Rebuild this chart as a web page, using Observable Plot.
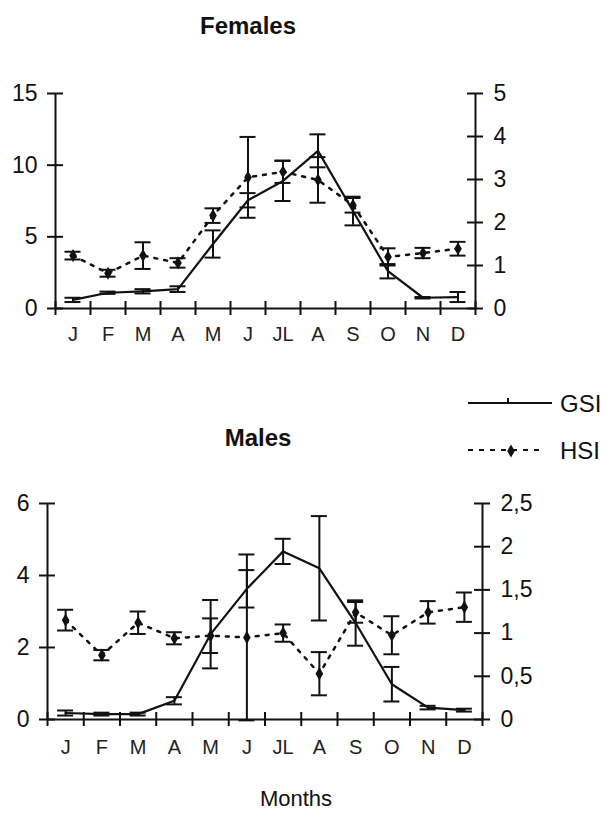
<!DOCTYPE html>
<html>
<head>
<meta charset="utf-8">
<script src="https://cdn.jsdelivr.net/npm/d3@7"></script>
<script src="https://cdn.jsdelivr.net/npm/@observablehq/plot@0.6"></script>
<style>
  body { margin: 0; background: #fff; }
  #chart { position: relative; width: 601px; height: 834px; background: #fff; font-family: "Liberation Sans", Arial, sans-serif; color: #111; overflow: hidden; }
  #chart > svg, #chart > figure { position: absolute; left: 0; margin: 0; }
</style>
</head>
<body>
<div id="chart"></div>
<script>
// ---------- data ----------
const months = ["J", "F", "M", "A", "M", "J", "JL", "A", "S", "O", "N", "D"];

// Females (GSI on left axis 0-15, HSI on right axis 0-5)
const femaleGSI    = [0.6, 1.1, 1.2, 1.35, 4.5, 7.55, 8.9, 11.0, 6.8, 2.6, 0.75, 0.8];
const femaleGSIerr = [0.15, 0.08, 0.15, 0.2, 0.95, 0.5, 1.4, 1.15, 1.0, 0.5, 0.05, 0.35];
const femaleHSI    = [1.23, 0.82, 1.23, 1.06, 2.16, 3.05, 3.18, 2.99, 2.4, 1.2, 1.29, 1.39];
const femaleHSIerr = [0.09, 0.08, 0.31, 0.11, 0.17, 0.94, 0.26, 0.53, 0.17, 0.2, 0.12, 0.16];

// Males (GSI on left axis 0-6, HSI on right axis 0-2.5)
const maleGSI    = [0.18, 0.15, 0.15, 0.52, 2.37, 3.63, 4.67, 4.2, 2.68, 0.98, 0.33, 0.26];
const maleGSIerr = [0.07, 0.04, 0.04, 0.1, 0.95, 0.52, 0.35, 1.45, 0.63, 0.48, 0.05, 0.04];
const maleHSI    = [1.15, 0.745, 1.12, 0.94, 0.97, 0.95, 1.0, 0.53, 1.24, 0.975, 1.24, 1.3];
const maleHSIerr = [0.12, 0.06, 0.13, 0.07, 0.2, 0.96, 0.1, 0.25, 0.12, 0.22, 0.13, 0.17];

const femaleLeftTicks  = [0, 5, 10, 15];
const femaleRightTicks = [0, 1, 2, 3, 4, 5];
const maleLeftTicks    = [0, 2, 4, 6];
const maleRightTicks   = [0, 0.5, 1, 1.5, 2, 2.5];

// ---------- drawing ----------
const FONT = "'Liberation Sans', Arial, sans-serif";
const INK = "#111";

function panel({gsi, gsiErr, hsi, hsiErr, leftTicks, rightTicks, height, marginTop, marginBottom, marginLeft, marginRight, monthPad}) {
  const width = 601;
  const leftMax = leftTicks[leftTicks.length - 1];
  const rightMax = rightTicks[rightTicks.length - 1];
  const k = leftMax / rightMax;
  const innerW = width - marginLeft - marginRight;
  const innerH = height - marginTop - marginBottom;
  const capHalf = 8 / (innerW / 12);
  const rows = months.map((m, i) => ({
    x: i + 0.5,
    gsi: gsi[i], gsiLo: gsi[i] - gsiErr[i], gsiHi: gsi[i] + gsiErr[i],
    hsi: hsi[i] * k, hsiLo: (hsi[i] - hsiErr[i]) * k, hsiHi: (hsi[i] + hsiErr[i]) * k
  }));
  const caps = rows.flatMap(r => [
    {x1: r.x - capHalf, x2: r.x + capHalf, y: r.gsiLo},
    {x1: r.x - capHalf, x2: r.x + capHalf, y: r.gsiHi},
    {x1: r.x - capHalf, x2: r.x + capHalf, y: r.hsiLo},
    {x1: r.x - capHalf, x2: r.x + capHalf, y: r.hsiHi}
  ]);
  const fmt = v => String(Math.round(v * 10) / 10).replace(".", ",");
  return Plot.plot({
    width, height, marginTop, marginBottom, marginLeft, marginRight,
    x: {type: "linear", domain: [0, 12]},
    y: {type: "linear", domain: [0, leftMax]},
    style: {fontFamily: FONT, fontSize: "23px", color: INK, background: "transparent", overflow: "visible"},
    marks: [
      // frame: axis lines
      Plot.ruleY([0], {stroke: INK, strokeWidth: 2}),
      Plot.ruleX([0, 12], {stroke: INK, strokeWidth: 2}),
      // crossing ticks
      Plot.tickX(d3.range(13), {x: d => d, insetTop: innerH - 7, insetBottom: -7, stroke: INK, strokeWidth: 2}),
      Plot.tickY(leftTicks, {y: d => d, insetLeft: -8, insetRight: innerW - 8, stroke: INK, strokeWidth: 2}),
      Plot.tickY(rightTicks.map(v => v * k), {y: d => d, insetLeft: innerW - 8, insetRight: -8, stroke: INK, strokeWidth: 2}),
      // tick labels
      Plot.axisY(leftTicks, {anchor: "left", tickSize: 0, tickPadding: 18, fontSize: 23, label: null}),
      Plot.axisY(rightTicks.map(v => v * k), {anchor: "right", tickSize: 0, tickPadding: 18, fontSize: 23, tickFormat: d => fmt(d / k), label: null}),
      Plot.axisX(months.map((m, i) => i + 0.5), {anchor: "bottom", tickSize: 0, tickPadding: monthPad, fontSize: 20, fill: "#222", tickFormat: d => months[Math.floor(d)], label: null}),
      // error bars
      Plot.ruleX(rows, {x: "x", y1: "gsiLo", y2: "gsiHi", stroke: INK, strokeWidth: 2}),
      Plot.ruleX(rows, {x: "x", y1: "hsiLo", y2: "hsiHi", stroke: INK, strokeWidth: 2}),
      Plot.ruleY(caps, {x1: "x1", x2: "x2", y: "y", stroke: INK, strokeWidth: 2}),
      // series
      Plot.line(rows, {x: "x", y: "hsi", stroke: INK, strokeWidth: 2.5, strokeDasharray: "3,7"}),
      Plot.dot(rows, {x: "x", y: "hsi", symbol: "diamond", r: 4, fill: INK, stroke: "none"}),
      Plot.line(rows, {x: "x", y: "gsi", stroke: INK, strokeWidth: 2.2})
    ]
  });
}

const chart = document.getElementById("chart");

const female = panel({
  gsi: femaleGSI, gsiErr: femaleGSIerr, hsi: femaleHSI, hsiErr: femaleHSIerr,
  leftTicks: femaleLeftTicks, rightTicks: femaleRightTicks,
  height: 350, marginTop: 93, marginBottom: 42, marginLeft: 55, marginRight: 126, monthPad: 18
});
female.style.top = "0px";
chart.appendChild(female);

const male = panel({
  gsi: maleGSI, gsiErr: maleGSIerr, hsi: maleHSI, hsiErr: maleHSIerr,
  leftTicks: maleLeftTicks, rightTicks: maleRightTicks,
  height: 300, marginTop: 33, marginBottom: 51, marginLeft: 47, marginRight: 119, monthPad: 20
});
male.style.top = "470px";
chart.appendChild(male);

// ---------- titles, legend, x label ----------
const ns = "http://www.w3.org/2000/svg";
const over = document.createElementNS(ns, "svg");
over.setAttribute("width", 601);
over.setAttribute("height", 834);
over.style.top = "0px";
over.style.pointerEvents = "none";
over.setAttribute("font-family", FONT);
over.setAttribute("fill", INK);
chart.appendChild(over);

function addText(str, x, y, opts = {}) {
  const t = document.createElementNS(ns, "text");
  t.setAttribute("x", x);
  t.setAttribute("y", y);
  t.setAttribute("font-size", opts.size || 24);
  if (opts.bold) t.setAttribute("font-weight", "bold");
  t.setAttribute("text-anchor", opts.anchor || "middle");
  if (opts.baseline) t.setAttribute("dominant-baseline", opts.baseline);
  t.textContent = str;
  over.appendChild(t);
}
function addLine(x1, y1, x2, y2, dash) {
  const l = document.createElementNS(ns, "line");
  l.setAttribute("x1", x1); l.setAttribute("y1", y1);
  l.setAttribute("x2", x2); l.setAttribute("y2", y2);
  l.setAttribute("stroke", INK);
  l.setAttribute("stroke-width", 2);
  if (dash) l.setAttribute("stroke-dasharray", dash);
  over.appendChild(l);
}

addText("Females", 248, 34, {bold: true});
addText("Males", 258, 446, {bold: true});
addText("Months", 296, 806, {size: 22});

// legend
addLine(468, 403, 552, 403);
addLine(508, 398, 508, 403);
addText("GSI", 560, 403, {anchor: "start", baseline: "central", size: 24});
addLine(468, 450, 543, 450, "5,6");
const dia = document.createElementNS(ns, "path");
dia.setAttribute("d", d3.symbol(d3.symbolDiamond, 50)());
dia.setAttribute("transform", "translate(511,451)");
dia.setAttribute("fill", INK);
over.appendChild(dia);
addText("HSI", 560, 450, {anchor: "start", baseline: "central", size: 24});
</script>
</body>
</html>
